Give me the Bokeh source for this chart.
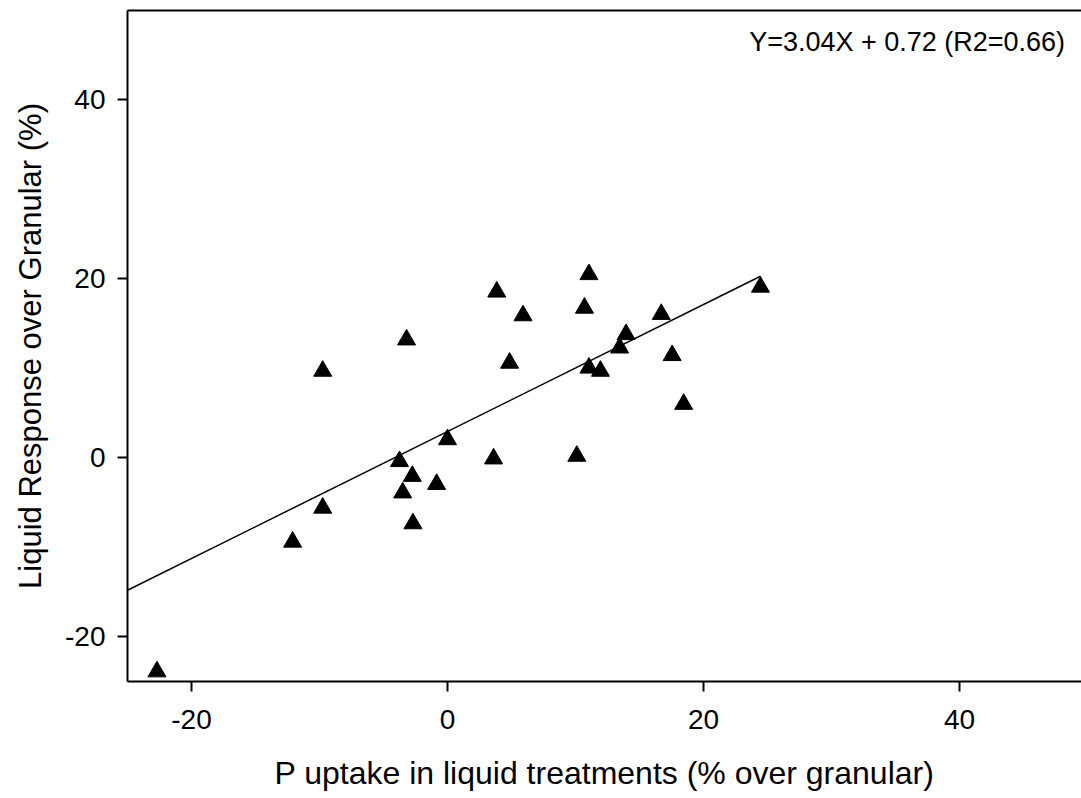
from bokeh.plotting import figure
from bokeh.models import Range1d, LinearAxis, FixedTicker, Label
from bokeh.embed import file_html
from bokeh.resources import INLINE

# Data
x_vals = [-22.7, -12.1, -9.75, -9.75, -3.2, -3.75, -3.5, -2.75, -2.7, -0.85,
          0.0, 3.6, 3.85, 4.85, 5.9, 10.1, 10.7, 11.05, 11.05, 11.95,
          13.45, 13.95, 16.7, 17.55, 18.45, 24.45]
y_vals = [-23.9, -9.4, -5.6, 9.7, 13.2, -0.4, -3.9, -2.05, -7.35, -2.95,
          2.05, -0.1, 18.55, 10.6, 15.9, 0.2, 16.75, 20.5, 10.05, 9.7,
          12.3, 13.8, 16.05, 11.45, 6.0, 19.1]
fit_x = [-25, 24.45]
fit_y = [-14.8, 20.3]
x_ticks = [-20, 0, 20, 40]
y_ticks = [-20, 0, 20, 40]
annotation = "Y=3.04X + 0.72 (R2=0.66)"
x_title = "P uptake in liquid treatments (% over granular)"
y_title = "Liquid Response over Granular (%)"

FONT = "Liberation Sans"

p = figure(width=1081, height=798, output_backend="svg", toolbar_location=None,
           x_range=Range1d(-25, 49.53), y_range=Range1d(-25, 50),
           min_border_left=127, min_border_right=0, min_border_top=10,
           min_border_bottom=117)
p.grid.visible = False
p.outline_line_color = None
p.background_fill_color = "white"
p.border_fill_color = "white"

for ax, ticks, title in ((p.xaxis[0], x_ticks, x_title), (p.yaxis[0], y_ticks, y_title)):
    ax.ticker = FixedTicker(ticks=ticks)
    ax.major_label_overrides = {t: str(t) for t in ticks}
    ax.minor_tick_line_color = None
    ax.major_tick_in = 0
    ax.major_tick_out = 10
    ax.major_tick_line_width = 2
    ax.axis_line_width = 2
    ax.axis_line_color = "black"
    ax.major_tick_line_color = "black"
    ax.major_label_text_font = FONT
    ax.major_label_text_font_size = "28px"
    ax.major_label_text_color = "black"
    ax.axis_label = title
    ax.axis_label_text_font = FONT
    ax.axis_label_text_font_style = "normal"
    ax.axis_label_text_color = "black"

p.xaxis[0].major_label_standoff = 18
p.xaxis[0].axis_label_standoff = 23
p.xaxis[0].axis_label_text_font_size = "32px"
p.yaxis[0].major_label_standoff = 12
p.yaxis[0].axis_label_standoff = 14
p.yaxis[0].axis_label_text_font_size = "31px"

top = LinearAxis(ticker=FixedTicker(ticks=[]), major_tick_in=0, major_tick_out=0,
                 minor_tick_in=0, minor_tick_out=0, major_label_standoff=0,
                 major_label_text_font_size="0px", axis_line_width=2,
                 axis_line_color="black")
p.add_layout(top, "above")

p.line(fit_x, fit_y, line_color="black", line_width=1.5)
p.scatter(x_vals, y_vals, marker="triangle", size=18, fill_color="black",
          line_color="black")

lab = Label(x=48.25, y=46.5, text=annotation, text_align="right",
            text_baseline="middle", text_font=FONT, text_font_size="27px",
            text_color="black")
p.add_layout(lab)

open("out.html", "w").write(file_html(p, INLINE))
